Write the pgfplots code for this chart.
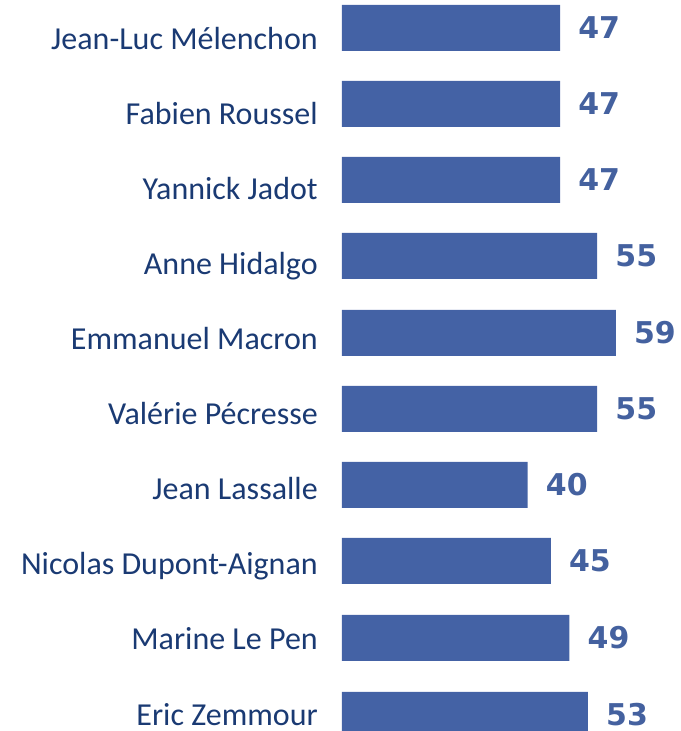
\documentclass[border=0pt]{standalone}
\usepackage{pgfplots}
\pgfplotsset{compat=1.18}
\usepackage{fontspec}
\setmainfont{Carlito}
\newfontfamily\valfont{DejaVu Sans}
\definecolor{barblue}{HTML}{4462A5}
\definecolor{valblue}{HTML}{44619F}
\definecolor{labnavy}{HTML}{1A3A73}
\begin{document}
\begin{tikzpicture}
\begin{axis}[
  at={(0pt,0pt)}, anchor=south west,
  scale only axis,
  width=254.25pt, height=548.25pt,
  xmin=0, xmax=73.06,
  ymin=-731, ymax=0,
  xbar, bar width=46, bar shift=0pt,
  axis line style={draw=none},
  tick style={draw=none},
  major tick length=0pt,
  xtick=\empty,
  /pgf/number format/assume math mode=true,
  ytick={-50,-125,-200,-275,-350,-425,-500,-575,-650,-725},
  yticklabels={Jean-Luc Mélenchon,Fabien Roussel,Yannick Jadot,Anne Hidalgo,Emmanuel Macron,Valérie Pécresse,Jean Lassalle,Nicolas Dupont-Aignan,Marine Le Pen,Eric Zemmour},
  yticklabel style={anchor=base east, inner sep=0pt, font=\fontsize{24pt}{28pt}\selectfont, text=labnavy},
  yticklabel shift={18pt},
  nodes near coords,
  nodes near coords style={anchor=west, inner sep=0pt, xshift=13.5pt, font=\valfont\bfseries\fontsize{22.5pt}{26pt}\selectfont, text=valblue},
]
\addplot[fill=barblue, draw=none] coordinates {
(47,-28) (47,-104) (47,-180) (55,-256) (59,-333) (55,-409) (40,-485) (45,-561) (49,-638) (53,-715)};
\end{axis}
\pgfresetboundingbox
\path[use as bounding box] (-256.5pt,0pt) rectangle (254.25pt,548.25pt);
\end{tikzpicture}
\end{document}
